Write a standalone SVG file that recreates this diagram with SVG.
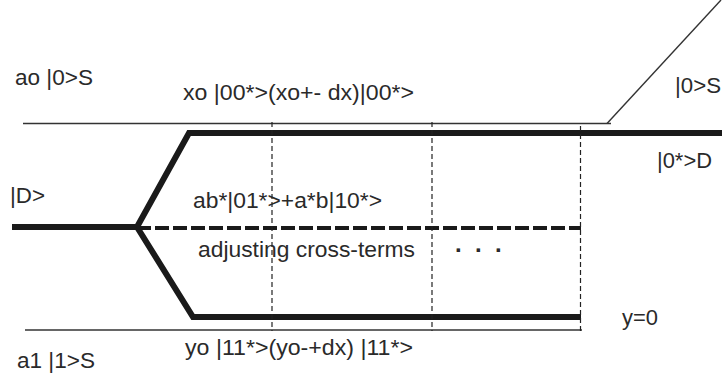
<svg xmlns="http://www.w3.org/2000/svg" width="722" height="377" viewBox="0 0 722 377">
<style>
text{font-family:"Liberation Sans",Arial,sans-serif;font-size:22px;fill:#2a2a2a;}
.thin{stroke:#333;stroke-width:1.4;fill:none;}
.thick{stroke:#1a1a1a;stroke-width:6;fill:none;stroke-linejoin:miter;}
.tdash{stroke:#1a1a1a;stroke-width:4;fill:none;stroke-dasharray:14 4;}
.vdash{stroke:#222;stroke-width:1.2;fill:none;stroke-dasharray:5 3;}
.dots{font-weight:bold;font-size:24px;}
</style>
<rect width="722" height="377" fill="#fff"/>
<g id="connectors">
<line class="thin" x1="23" y1="123.5" x2="611" y2="123.5"/>
<line class="thin" x1="607" y1="123.5" x2="721" y2="0"/>
<line class="thin" x1="25" y1="330" x2="582" y2="330"/>
<polyline class="thick" points="722,133 189,133 137,227 12,227"/>
<polyline class="thick" points="137,227 193,317 581,317"/>
<line class="tdash" x1="137" y1="228" x2="581" y2="228"/>
<line class="vdash" x1="272" y1="122" x2="272" y2="331"/>
<line class="vdash" x1="432" y1="122" x2="432" y2="331"/>
<line class="vdash" x1="580.5" y1="126" x2="580.5" y2="332"/>
</g>
<g id="labels">
<text id="t-ao" x="15" y="85" textLength="78" lengthAdjust="spacingAndGlyphs">ao |0&gt;S</text>
<text id="t-xo" x="183" y="100" textLength="231" lengthAdjust="spacingAndGlyphs">xo |00*&gt;(xo+- dx)|00*&gt;</text>
<text id="t-0S" x="675" y="93" textLength="46" lengthAdjust="spacingAndGlyphs">|0&gt;S</text>
<text id="t-0D" x="657" y="168" textLength="55" lengthAdjust="spacingAndGlyphs">|0*&gt;D</text>
<text id="t-D" x="10" y="203" textLength="35" lengthAdjust="spacingAndGlyphs">|D&gt;</text>
<text id="t-ab" x="193" y="208" textLength="189" lengthAdjust="spacingAndGlyphs">ab*|01*&gt;+a*b|10*&gt;</text>
<text id="t-adj" x="198" y="257" textLength="217" lengthAdjust="spacingAndGlyphs">adjusting cross-terms</text>
<text id="t-dots" class="dots" x="455 475 495" y="252">...</text>
<text id="t-y0" x="622" y="325" textLength="36" lengthAdjust="spacingAndGlyphs">y=0</text>
<text id="t-yo" x="185" y="355" textLength="228" lengthAdjust="spacingAndGlyphs">yo |11*&gt;(yo-+dx) |11*&gt;</text>
<text id="t-a1" x="17" y="368" textLength="78" lengthAdjust="spacingAndGlyphs">a1 |1&gt;S</text>
</g>
</svg>
